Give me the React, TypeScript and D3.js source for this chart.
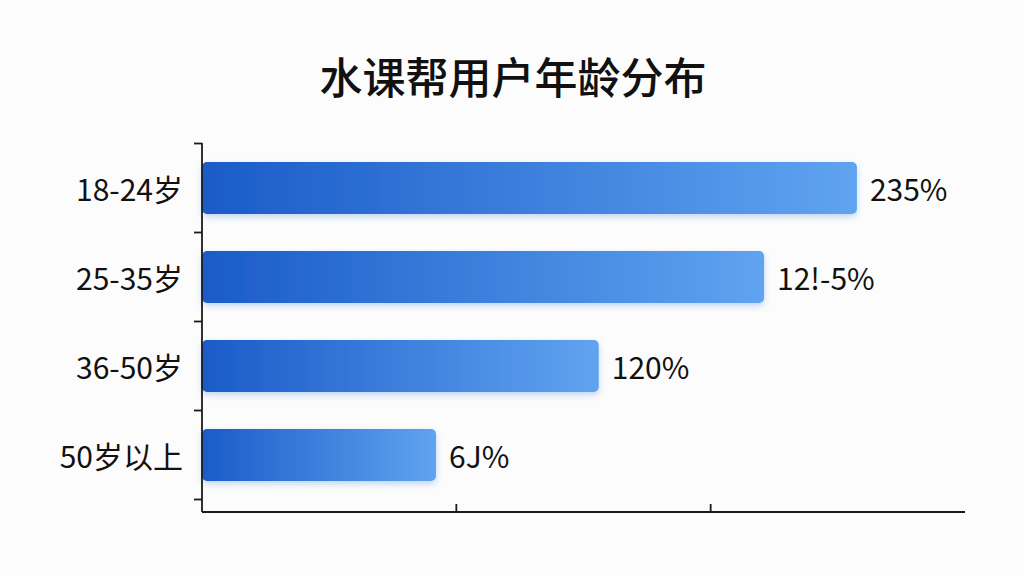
import React from "react";
import * as d3 from "d3";

const title = "水课帮用户年龄分布";
const categories = ["18-24岁", "25-35岁", "36-50岁", "50岁以上"];
const values = [25.75, 22.1, 15.6, 9.2];
const valueLabels = ["235%", "12!-5%", "120%", "6J%"];
const xTicks = [10, 20];

const W = 1024;
const H = 576;
const FONT = "'Noto Sans CJK SC', 'Noto Sans', sans-serif";

export default function App() {
  const left = 202;
  const right = 965;
  const axisBottom = 512;
  const x = d3.scaleLinear().domain([0, 30]).range([left, right]);
  const y = d3
    .scaleBand<string>()
    .domain(categories)
    .range([143.5, 499.5])
    .paddingInner(0.415)
    .paddingOuter(0.2075);
  const step = y.step();
  const bandTicks = d3.range(categories.length + 1).map(
    (i) => (y(categories[0]) as number) - (step - y.bandwidth()) / 2 + i * step
  );

  return (
    <svg
      width={W}
      height={H}
      style={{ position: "absolute", left: 0, top: 0, display: "block", background: "#fcfcfc" }}
      fontFamily={FONT}
    >
      <defs>
        <linearGradient id="barGrad" x1="0" x2="1" y1="0" y2="0">
          <stop offset="0%" stopColor="#1a5bc8" />
          <stop offset="100%" stopColor="#60a3f0" />
        </linearGradient>
        <filter id="shadow" x="-5%" y="-30%" width="110%" height="170%">
          <feDropShadow dx="0" dy="3" stdDeviation="3" floodColor="#3a7fe0" floodOpacity="0.3" />
        </filter>
      </defs>
      <rect width={W} height={H} fill="#fcfcfc" />
      <text
        x={513}
        y={75}
        textAnchor="middle"
        dominantBaseline="central"
        fontSize={43}
        fontWeight={500}
        fill="#111"
      >
        {title}
      </text>

      {categories.map((c, i) => {
        const by = y(c) as number;
        const bw = y.bandwidth();
        return (
          <g key={c}>
            <rect
              x={x(0)}
              y={by}
              width={x(values[i]) - x(0)}
              height={bw}
              rx={5}
              fill="url(#barGrad)"
              filter="url(#shadow)"
            />
            <text
              x={183}
              y={by + bw / 2}
              textAnchor="end"
              dominantBaseline="central"
              fontSize={30}
              fill="#111"
            >
              {c}
            </text>
            <text
              x={x(values[i]) + 13}
              y={by + bw / 2}
              dominantBaseline="central"
              fontSize={30}
              fill="#111"
            >
              {valueLabels[i]}
            </text>
          </g>
        );
      })}

      {/* y axis */}
      <line x1={left} x2={left} y1={143} y2={axisBottom} stroke="#1a1a1a" strokeWidth={1.8} />
      {bandTicks.map((t, i) => (
        <line key={i} x1={left - 8} x2={left} y1={t} y2={t} stroke="#1a1a1a" strokeWidth={1.8} />
      ))}
      {/* x axis */}
      <line x1={left} x2={right} y1={axisBottom} y2={axisBottom} stroke="#1a1a1a" strokeWidth={1.8} />
      {xTicks.map((t) => (
        <line key={t} x1={x(t)} x2={x(t)} y1={axisBottom - 8} y2={axisBottom} stroke="#1a1a1a" strokeWidth={1.8} />
      ))}
    </svg>
  );
}
